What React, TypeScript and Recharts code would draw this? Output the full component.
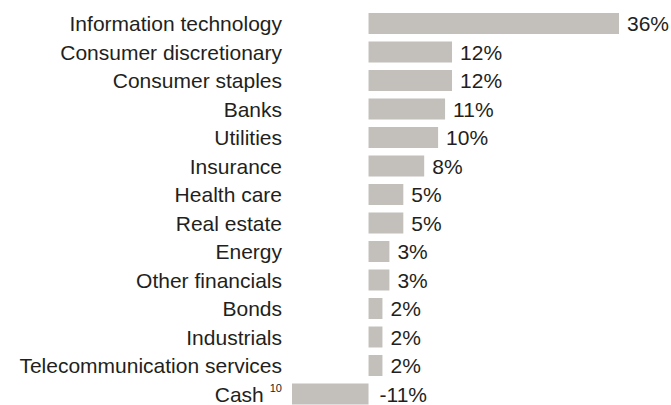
import React from "react";
import { BarChart, Bar, XAxis, YAxis, LabelList } from "recharts";

const categories = [
  "Information technology",
  "Consumer discretionary",
  "Consumer staples",
  "Banks",
  "Utilities",
  "Insurance",
  "Health care",
  "Real estate",
  "Energy",
  "Other financials",
  "Bonds",
  "Industrials",
  "Telecommunication services",
  "Cash",
];
const weights = [36, 12, 12, 11, 10, 8, 5, 5, 3, 3, 2, 2, 2, -11];
const footnotes = ["", "", "", "", "", "", "", "", "", "", "", "", "", "10"];

const data = categories.map((name, i) => ({
  name,
  value: weights[i],
  note: footnotes[i],
}));

const FONT = "'Liberation Sans', Arial, sans-serif";
const TEXT = "#231f20";
const BAR = "#c3c0bb";

const CategoryTick = (props: any) => {
  const { x, y, payload } = props;
  const note = footnotes[categories.indexOf(payload.value)];
  return (
    <text
      x={x}
      y={y}
      textAnchor="end"
      dominantBaseline="central"
      fontFamily={FONT}
      fontSize={21}
      fill={TEXT}
    >
      <tspan>{payload.value}</tspan>
      {note ? (
        <tspan dx={6} dy={-6} fontSize={11}>
          {note}
        </tspan>
      ) : null}
    </text>
  );
};

const ValueLabel = (props: any) => {
  const { x, y, width, height, value } = props;
  const right = Math.max(x, x + width);
  const lx = value >= 0 ? right + 8 : right + 11;
  return (
    <text
      x={lx}
      y={y + height / 2}
      dominantBaseline="central"
      fontFamily={FONT}
      fontSize={21}
      fill={TEXT}
    >
      {value}%
    </text>
  );
};

export default function App() {
  return (
    <div style={{ position: "absolute", left: 0, top: 0, width: 671, height: 405, overflow: "hidden", background: "#fff" }}>
      <BarChart
        width={671}
        height={408}
        data={data}
        layout="vertical"
        margin={{ top: 9, right: 52, bottom: 0, left: 0 }}
      >
        <XAxis type="number" domain={[-11, 36]} allowDataOverflow hide />
        <YAxis
          type="category"
          dataKey="name"
          width={292}
          axisLine={false}
          tickLine={false}
          tickMargin={4}
          interval={0}
          tick={<CategoryTick />}
        />
        <Bar dataKey="value" fill={BAR} barSize={21} isAnimationActive={false}>
          <LabelList dataKey="value" content={<ValueLabel />} />
        </Bar>
      </BarChart>
    </div>
  );
}
